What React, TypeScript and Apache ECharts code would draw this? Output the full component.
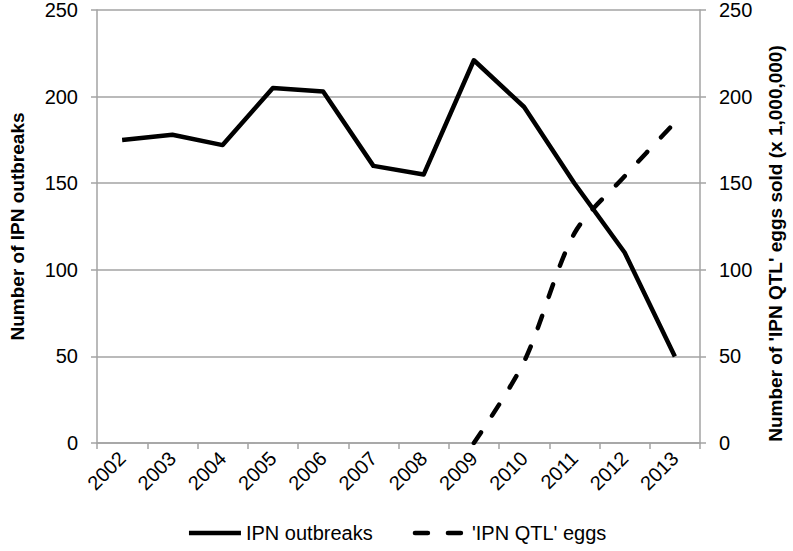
import React, { useEffect, useRef } from "react";
import * as echarts from "echarts";

const years = ["2002", "2003", "2004", "2005", "2006", "2007", "2008", "2009", "2010", "2011", "2012", "2013"];
const outbreaks = [175, 178, 172, 205, 203, 160, 155, 221, 194, 150, 110, 50];
const eggs = [null, null, null, null, null, null, null, 0, 47, 121, 154, 185];
const yTicks = { min: 0, max: 250, interval: 50 };
const leftName = "Number of IPN outbreaks";
const rightName = "Number of 'IPN QTL' eggs sold (x 1,000,000)";
const seriesNames = ["IPN outbreaks", "'IPN QTL' eggs"];

const FONT = "'Liberation Sans', Arial, sans-serif";
const GREY = "#a3a3a3";

export default function App() {
  const ref = useRef<HTMLDivElement>(null);
  useEffect(() => {
    if (!ref.current) return;
    const chart = echarts.init(ref.current, null, { renderer: "svg" });
    const yAxisBase = {
      type: "value",
      min: yTicks.min,
      max: yTicks.max,
      interval: yTicks.interval,
      nameLocation: "middle",
      nameRotate: 90,
      axisLine: { show: true, lineStyle: { color: GREY, width: 1.5 } },
      axisTick: { show: true, length: 6, inside: false, lineStyle: { color: GREY, width: 1.5 } },
      axisLabel: { fontFamily: FONT, fontSize: 20, color: "#000", margin: 19 },
    };
    chart.setOption({
      animation: false,
      grid: { left: 82, right: 87, top: 10, bottom: 108, containLabel: false },
      legend: {
        left: "center",
        top: 518,
        itemWidth: 52,
        itemHeight: 14,
        itemGap: 40,
        itemStyle: { opacity: 0 },
        lineStyle: { width: 4.5 },
        textStyle: { fontFamily: FONT, fontSize: 20, color: "#000" },
        data: seriesNames,
      },
      xAxis: {
        type: "category",
        data: years,
        boundaryGap: true,
        axisLine: { lineStyle: { color: GREY, width: 1.5 } },
        axisTick: { show: true, length: 6, alignWithLabel: false, lineStyle: { color: GREY, width: 1.5 } },
        axisLabel: { fontFamily: FONT, fontSize: 20, color: "#000", rotate: 45, margin: 12, interval: 0 },
      },
      yAxis: [
        {
          ...yAxisBase,
          position: "left",
          name: leftName,
          nameGap: 70,
          nameTextStyle: { fontFamily: FONT, fontSize: 19, fontWeight: "bold", color: "#000" },
          splitLine: { show: true, lineStyle: { color: GREY, width: 1.5 } },
        },
        {
          ...yAxisBase,
          position: "right",
          name: rightName,
          nameGap: 66,
          nameRotate: 90,
          nameTextStyle: {
            fontFamily: FONT,
            fontSize: 19,
            fontWeight: "bold",
            color: "#000",
            padding: [0, 34, 0, 0],
          },
          splitLine: { show: false },
        },
      ],
      series: [
        {
          name: seriesNames[0],
          type: "line",
          data: outbreaks,
          yAxisIndex: 0,
          symbol: "none",
          lineStyle: { color: "#000", width: 4.5, join: "round" },
          itemStyle: { color: "#000" },
        },
        {
          name: seriesNames[1],
          type: "line",
          data: eggs,
          yAxisIndex: 1,
          symbol: "none",
          smooth: 0.3,
          lineStyle: { color: "#000", width: 4.5, type: [13, 20], cap: "round" },
          itemStyle: { color: "#000" },
        },
      ],
    });
    return () => chart.dispose();
  }, []);
  return <div ref={ref} style={{ width: 793, height: 551, position: "absolute", left: 0, top: 0 }} />;
}
